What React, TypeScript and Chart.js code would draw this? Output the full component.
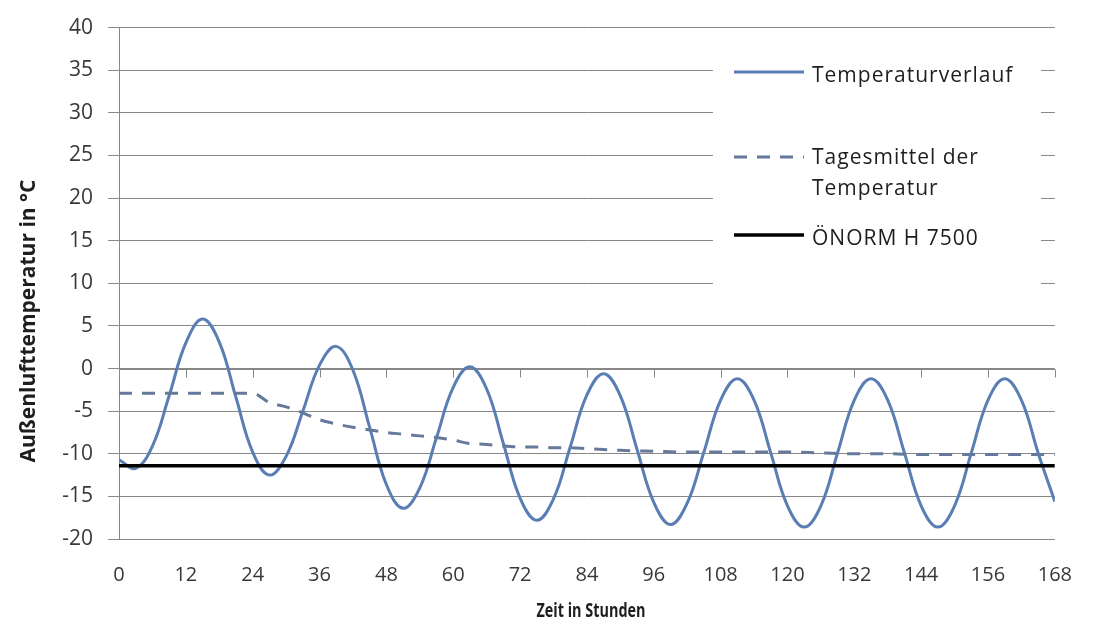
import React, { useEffect, useRef } from "react";
import { Chart, registerables } from "chart.js";

Chart.register(...registerables);

// Hourly outdoor temperature over one week (sampled every 3 h)
const hours = [
  0, 3, 6, 9, 12, 15, 18, 21, 24, 27, 30, 33, 36, 39, 42, 45, 48, 51, 54, 57,
  60, 63, 66, 69, 72, 75, 78, 81, 84, 87, 90, 93, 96, 99, 102, 105, 108, 111,
  114, 117, 120, 123, 126, 129, 132, 135, 138, 141, 144, 147, 150, 153, 156,
  159, 162, 165, 168,
];
const temperature = [
  -10.7, -11.7, -9.1, -3.2, 3.0, 5.8, 3.1, -3.4, -9.8, -12.5, -10.3, -5.0, 0.4,
  2.6, -0.2, -6.9, -13.6, -16.4, -14.0, -8.1, -2.2, 0.2, -2.4, -8.8, -15.2,
  -17.8, -15.3, -9.2, -3.1, -0.6, -3.2, -9.5, -15.7, -18.3, -15.8, -9.8, -3.7,
  -1.2, -3.7, -9.9, -16.1, -18.6, -16.1, -9.9, -3.7, -1.2, -3.7, -9.9, -16.1,
  -18.6, -16.1, -9.9, -3.7, -1.2, -3.7, -9.9, -15.6,
];

// Daily mean temperature
const meanHours = [
  0, 24, 27, 30, 33, 36, 39, 42, 45, 48, 51, 54, 57, 60, 63, 66, 69, 72, 75,
  78, 81, 84, 87, 90, 96, 102, 108, 114, 120, 126, 132, 138, 144, 156, 168,
];
const meanTemperature = [
  -2.9, -2.9, -4.0, -4.5, -5.2, -6.0, -6.5, -6.9, -7.2, -7.5, -7.7, -7.9, -8.1,
  -8.4, -8.8, -8.9, -9.1, -9.2, -9.2, -9.3, -9.3, -9.4, -9.5, -9.6, -9.7, -9.8,
  -9.8, -9.8, -9.8, -9.9, -10.0, -10.0, -10.1, -10.1, -10.1,
];

// Design outdoor temperature according to ÖNORM H 7500
const normHours = [0, 168];
const normTemperature = [-11.4, -11.4];

const legendLines = [
  ["Temperaturverlauf"],
  ["Tagesmittel der", "Temperatur"],
  ["ÖNORM H 7500"],
];
const xTitle = "Zeit in Stunden";
const yTitle = "Außenlufttemperatur in °C";

const X_MIN = 0;
const X_MAX = 168;
const X_STEP = 12;
const Y_MIN = -20;
const Y_MAX = 40;
const Y_STEP = 5;

const GRID = "#878787";
const TEXT = "#383838";
const DARK = "#1e1e1e";
const BLUE = "#5a7db4";
const MEAN = "#66799a";
const NORM = "#000000";
const DASH = [13, 10];

const toPoints = (xs: number[], ys: number[]) =>
  xs.map((x, i) => ({ x, y: ys[i] }));

const decorations = {
  id: "decorations",
  beforeDatasetsDraw(chart: any) {
    const { ctx, chartArea, scales } = chart;
    const xs = scales.x;
    const ys = scales.y;
    ctx.save();

    // horizontal axis crossing at 0 °C with downward tick marks
    const y0 = Math.round(ys.getPixelForValue(0)) + 0.5;
    ctx.strokeStyle = GRID;
    ctx.lineWidth = 1;
    ctx.beginPath();
    ctx.moveTo(chartArea.left, y0);
    ctx.lineTo(chartArea.right, y0);
    for (let h = X_MIN + X_STEP; h <= X_MAX; h += X_STEP) {
      const px = Math.round(xs.getPixelForValue(h)) + 0.5;
      ctx.moveTo(px, y0);
      ctx.lineTo(px, y0 + 8);
    }
    ctx.stroke();

    // legend panel
    ctx.fillStyle = "#ffffff";
    ctx.fillRect(713, 42, 328, 256);

    const samples = [
      { color: BLUE, dash: [] as number[], width: 3, lineY: 72, baselines: [82] },
      { color: MEAN, dash: DASH, width: 3, lineY: 157, baselines: [164, 195] },
      { color: NORM, dash: [] as number[], width: 3.5, lineY: 235, baselines: [245] },
    ];
    samples.forEach((s, i) => {
      ctx.strokeStyle = s.color;
      ctx.lineWidth = s.width;
      ctx.setLineDash(s.dash);
      ctx.beginPath();
      ctx.moveTo(734, s.lineY);
      ctx.lineTo(804, s.lineY);
      ctx.stroke();
      ctx.setLineDash([]);
      ctx.fillStyle = DARK;
      ctx.font = "21px 'Open Sans'";
      (ctx as any).letterSpacing = "1px";
      ctx.textAlign = "left";
      ctx.textBaseline = "alphabetic";
      legendLines[i].forEach((line, j) => {
        ctx.fillText(line, 812, s.baselines[j]);
      });
      (ctx as any).letterSpacing = "0px";
    });

    // axis titles
    ctx.fillStyle = DARK;
    ctx.textAlign = "center";
    ctx.textBaseline = "alphabetic";
    ctx.font = "bold 20px 'Open Sans'";
    ctx.save();
    ctx.translate(591, 617);
    ctx.scale(0.72, 1);
    ctx.fillText(xTitle, 0, 0);
    ctx.restore();

    ctx.save();
    ctx.translate(35, 321);
    ctx.rotate(-Math.PI / 2);
    ctx.font = "bold 21px 'Open Sans'";
    ctx.fillText(yTitle, 0, 0);
    ctx.restore();

    ctx.restore();
  },
};

export default function App() {
  const canvasRef = useRef<HTMLCanvasElement | null>(null);

  useEffect(() => {
    if (!canvasRef.current) return;
    const chart = new Chart(canvasRef.current, {
      type: "line",
      data: {
        datasets: [
          {
            label: "Temperaturverlauf",
            data: toPoints(hours, temperature),
            borderColor: BLUE,
            borderWidth: 3,
            pointRadius: 0,
            tension: 0.4,
            fill: false,
            order: 3,
          },
          {
            label: "Tagesmittel der Temperatur",
            data: toPoints(meanHours, meanTemperature),
            borderColor: MEAN,
            borderWidth: 3,
            borderDash: DASH,
            pointRadius: 0,
            cubicInterpolationMode: "monotone",
            fill: false,
            order: 2,
          },
          {
            label: "ÖNORM H 7500",
            data: toPoints(normHours, normTemperature),
            borderColor: NORM,
            borderWidth: 3.5,
            pointRadius: 0,
            fill: false,
            order: 1,
          },
        ],
      },
      options: {
        responsive: false,
        animation: false,
        devicePixelRatio: 1,
        layout: { padding: { top: 25, right: 27, bottom: 0, left: 0 } },
        plugins: {
          legend: { display: false },
          tooltip: { enabled: false },
        },
        scales: {
          x: {
            type: "linear",
            min: X_MIN,
            max: X_MAX,
            grid: { display: false, drawTicks: false },
            border: { display: false },
            ticks: {
              stepSize: X_STEP,
              color: TEXT,
              font: { family: "'Open Sans'", size: 20 },
              padding: 24,
              maxRotation: 0,
            },
            afterFit(scale: any) {
              scale.height = 87;
            },
          },
          y: {
            type: "linear",
            min: Y_MIN,
            max: Y_MAX,
            grid: { color: GRID, lineWidth: 1, tickLength: 11, drawTicks: true },
            border: { display: true, color: GRID, width: 1 },
            ticks: {
              stepSize: Y_STEP,
              color: TEXT,
              font: { family: "'Open Sans'", size: 21 },
              padding: 15,
            },
            afterFit(scale: any) {
              scale.width = 119;
            },
          },
        },
      },
      plugins: [decorations],
    });
    return () => chart.destroy();
  }, []);

  return (
    <div style={{ position: "absolute", left: 0, top: 0, width: 1096, height: 626, background: "#fff" }}>
      <canvas ref={canvasRef} width={1096} height={626} />
    </div>
  );
}
